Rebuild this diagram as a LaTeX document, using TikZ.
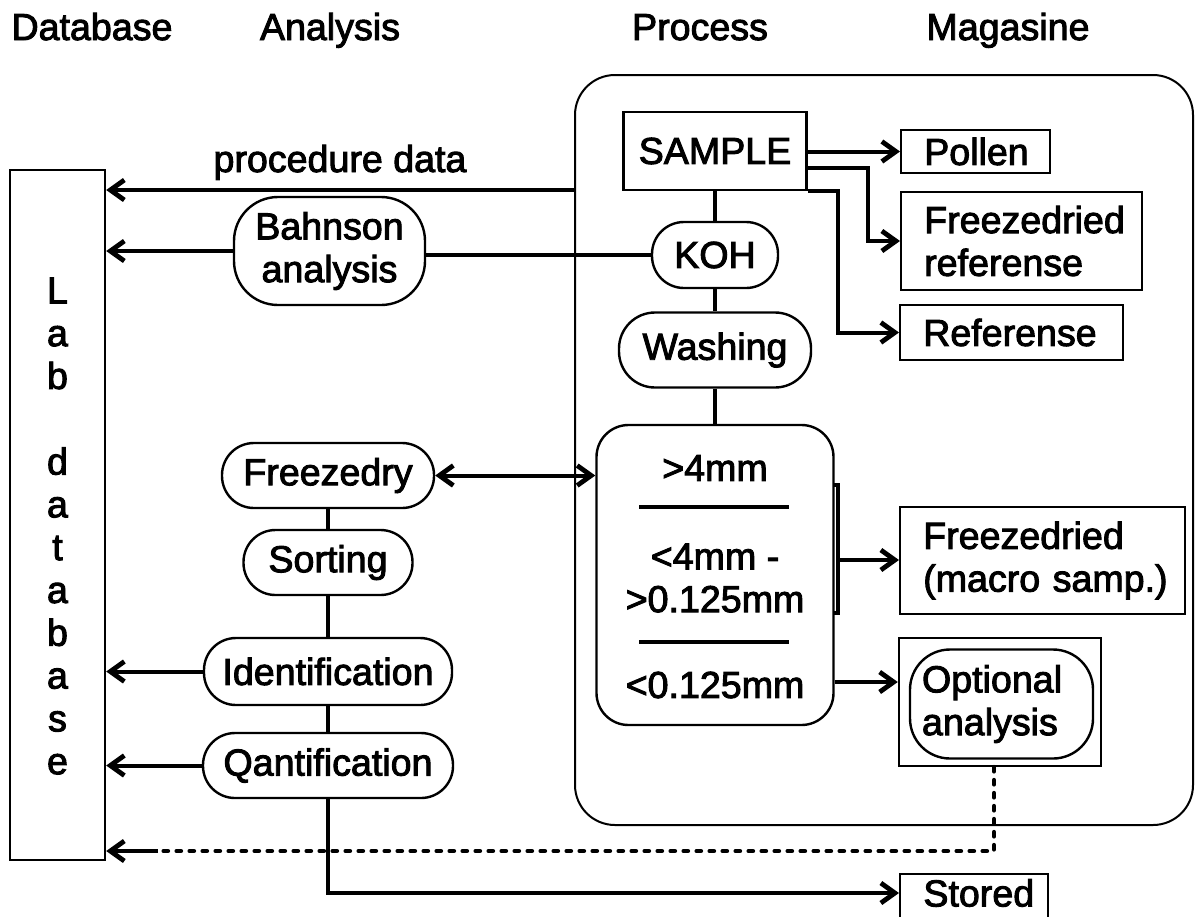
\documentclass[tikz,border=0pt]{standalone}
\usepackage{fontspec}
\setmainfont{Liberation Sans}[FakeBold=2.5]
\usetikzlibrary{arrows.meta,calc}
\begin{document}
\begin{tikzpicture}[x=0.5pt,y=-0.5pt,
  every node/.style={font=\fontsize{18.8pt}{21.4pt}\selectfont, inner sep=0pt},
  box/.style={draw, line width=1.2pt},
  pill/.style={draw, line width=1.2pt, rounded corners=16pt},
  mag/.style={box, align=left, inner xsep=11.5pt, inner ysep=0pt, anchor=west},
  conn/.style={line width=2pt},
  tip/.tip={Straight Barb[length=7pt,width=10pt,line width=2.4pt]},
  arr/.style={conn, -tip},
  dotline/.style={line width=2.4pt, line cap=round, dash pattern=on 2pt off 4.5pt},
]
\clip (0,0) rectangle (1198,916);
% headers
\node[anchor=base] (hdb) at (92,40) {Database};
\node[anchor=base] (han) at (330,40) {Analysis};
\node[anchor=base] (hpr) at (700,40) {Process};
\node[anchor=base] (hma) at (1008,40) {Magasine};
% lab database
\node[box, minimum width=47.5pt, minimum height=345pt] (lab) at (57.5,515) {};
\node[align=center] (labtxt) at (57.5,526) {L\\a\\b\\[21.4pt]d\\a\\t\\a\\b\\a\\s\\e};
% process frame
\node[draw, line width=1pt, rounded corners=20pt, minimum width=309pt, minimum height=375pt] (proc) at (884,450) {};
\node[box, minimum width=91.5pt, minimum height=39pt] (samp) at (715,151) {SAMPLE};
\node[pill, minimum width=63pt, minimum height=33pt] (koh) at (715,255) {KOH};
\node[pill, rounded corners=18pt, minimum width=96pt, minimum height=37.5pt] (wash) at (715,350) {Washing};
\node[box, rounded corners=16pt, minimum width=118.5pt, minimum height=150pt] (sub) at (715,575) {};
\node (s1) at (715,468) {>4mm};
\node[align=center] (s2) at (715,578) {<4mm -\\>0.125mm};
\node (s3) at (715,685) {<0.125mm};
\draw[line width=2pt] (639,507) -- (789,507);
\draw[line width=2pt] (639,642) -- (789,642);
\draw[line width=1.6pt] (833,485) -- (838,485) -- (838,613) -- (833,613);
% magasine
\node[mag, text width=51.5pt, minimum height=21.5pt] (pol) at (900,151.5) {Pollen};
\node[mag, text width=97.5pt, minimum height=49pt] (fref) at (900,241) {Freezedried\\referense};
\node[mag, text width=88.5pt, minimum height=27.5pt] (ref) at (899,332.5) {Referense};
\node[mag, text width=119.5pt, minimum height=53.5pt] (fmac) at (899,560.5) {Freezedried\\(macro~samp.)};
\node[box, minimum width=101pt, minimum height=64pt] (optouter) at (1000,702) {};
\node[draw, line width=1.2pt, rounded corners=20pt, align=left, text width=79.5pt, inner xsep=6pt, minimum height=54.5pt] (opt) at (1001.5,704) {Optional\\analysis};
\node[box, minimum width=74pt, minimum height=34pt, anchor=north west] (storedbox) at (899,873) {};
\node[anchor=west] (stored) at (923,893) {Stored};
% analysis column
\node[pill, rounded corners=22pt, align=center, minimum width=95.5pt, minimum height=54pt] (bahn) at (329.5,251) {Bahnson\\analysis};
\node[pill, minimum width=106pt, minimum height=32.5pt] (frz) at (328,475.5) {Freezedry};
\node[pill, minimum width=84.5pt, minimum height=32.5pt] (sort) at (328,562.5) {Sorting};
\node[pill, minimum width=124pt, minimum height=33.5pt] (ident) at (328,671.5) {Identification};
\node[pill, minimum width=125pt, minimum height=32.5pt] (qant) at (328,765.5) {Qantification};
% connectors
\coordinate (py) at (0,190);
\draw[arr] (proc.west |- py) -- (lab.east |- py);
\node[anchor=base] (pdlabel) at (340,172) {procedure data};
\draw[conn] (koh.west) -- (koh.west -| bahn.east);
\draw[arr] (bahn.west) -- (bahn.west -| lab.east);
\draw[conn, tip-tip] (frz.east) -- (frz.east -| sub.west);
\draw[arr] (ident.west) -- (ident.west -| lab.east);
\draw[arr] (qant.west) -- (qant.west -| lab.east);
\draw[conn] (frz.south) -- (sort.north);
\draw[conn] (sort.south) -- (ident.north);
\draw[conn] (ident.south) -- (qant.north);
\draw[arr] (qant.south) |- (storedbox.west |- stored);
\draw[conn] (samp.south) -- (koh.north);
\draw[conn] (koh.south) -- (wash.north);
\draw[conn] (wash.south) -- (sub.north);
\draw[arr] (pol.west -| samp.east) -- (pol.west);
\coordinate (b1y) at (0,168);
\draw[arr] (samp.east |- b1y) -- ++(60,0) |- (fref.west);
\draw[arr] (samp.south east) -- ++(30,0) |- (ref.west);
\coordinate (brk) at (838,560);
\draw[arr] (brk) -- (brk -| fmac.west);
\coordinate (oy) at (0,682);
\draw[arr] (sub.east |- oy) -- (optouter.west |- oy);
\coordinate (dc) at (994,851);
\coordinate (ds) at (158,851);
\draw[dotline] (optouter.south -| dc) -- (dc) -- (ds);
\draw[arr] (ds) -- (lab.east |- ds);
\end{tikzpicture}
\end{document}
